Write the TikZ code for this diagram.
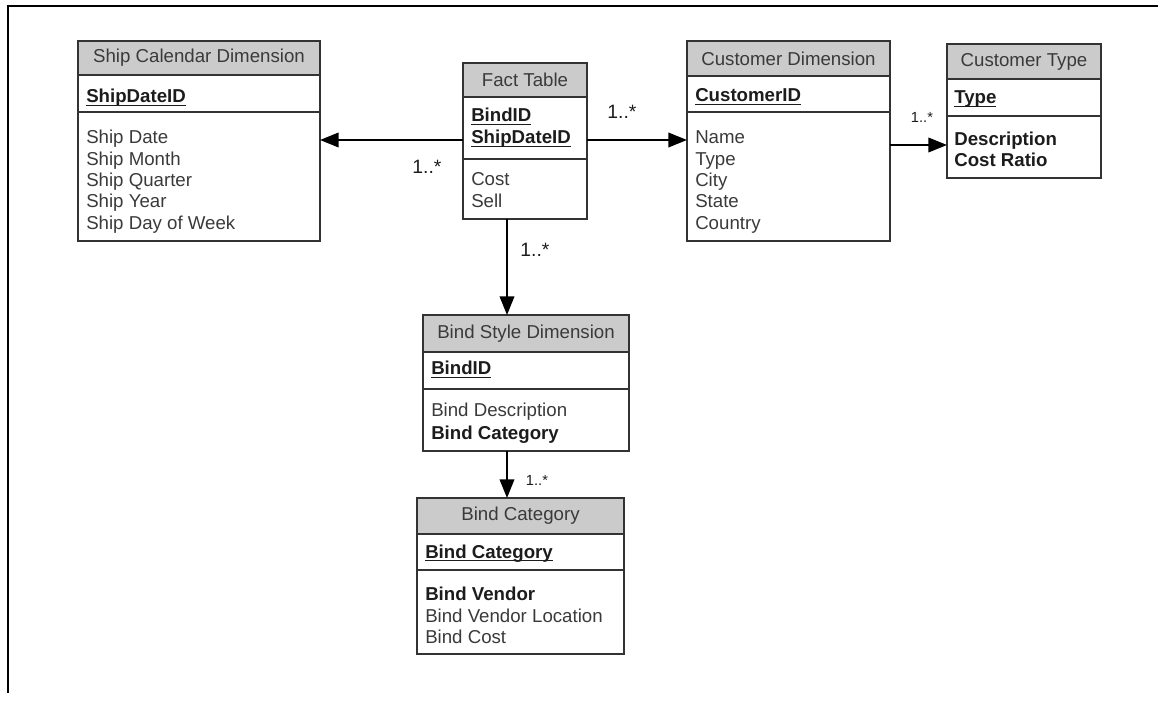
\documentclass[tikz,border=0pt]{standalone}
\usepackage{fontspec}
\setmainfont{Liberation Sans}
\usetikzlibrary{arrows.meta}
\definecolor{linec}{HTML}{333333}
\definecolor{hdrfill}{HTML}{CBCBCB}
\definecolor{txt}{HTML}{3A3A3A}
\definecolor{txtb}{HTML}{1C1C1C}
% bold, underlined primary key with a slightly heavier rule
\newcommand{\pkey}[1]{\setbox0\hbox{\textbf{#1}}\leavevmode\rlap{\rule[-2.2pt]{\wd0}{0.9pt}}\box0}
\def\px{0.75pt}
\begin{document}
\begin{tikzpicture}[x=0.75pt,y=-0.75pt,
  box/.style={draw=linec, line width=1.3pt, inner sep=0pt, outer sep=0pt, anchor=north west},
  hdr/.style={box, fill=hdrfill, text=txt, font=\fontsize{14pt}{16pt}\selectfont},
  fld/.style={anchor=base west, inner sep=0pt, text=txt, font=\fontsize{14pt}{16pt}\selectfont},
  bfld/.style={fld, text=txtb, font=\fontsize{14pt}{16pt}\selectfont\bfseries},
  arr/.style={draw=black, line width=1.2pt, -{Triangle[length=14pt,width=11pt]}},
  mult/.style={inner sep=0pt, text=txtb, font=\fontsize{14.5pt}{16pt}\selectfont},
  smult/.style={inner sep=0pt, text=txtb, font=\fontsize{11pt}{13pt}\selectfont},
]
\useasboundingbox (0,0) rectangle (1158,702);
% page frame
\draw[line width=1.8pt, line cap=rect] (1158,6) -- (8,6) -- (8,692);

% Ship Calendar Dimension
\node[hdr, minimum width=242*\px, minimum height=34*\px] (ship-h) at (78,41) {Ship Calendar Dimension};
\node[box, minimum width=242*\px, minimum height=37*\px] (ship-k) at (ship-h.south west) {};
\node[box, minimum width=242*\px, minimum height=129*\px] (ship-b) at (ship-k.south west) {};
\node[bfld] (ship-k1) at (86,103) {\pkey{ShipDateID}};
\foreach \t [count=\i] in {Ship Date,Ship Month,Ship Quarter,Ship Year,Ship Day of Week}
  \node[fld] (ship-b\i) at (86,{144+21.3*(\i-1)}) {\t};

% Fact Table
\node[hdr, minimum width=124*\px, minimum height=34*\px] (fact-h) at (463,63) {Fact Table};
\node[box, minimum width=124*\px, minimum height=62*\px] (fact-k) at (fact-h.south west) {};
\node[box, minimum width=124*\px, minimum height=60*\px] (fact-b) at (fact-k.south west) {};
\node[bfld] (fact-k1) at (471,122) {\pkey{BindID}};
\node[bfld] (fact-k2) at (471,144) {\pkey{ShipDateID}};
\node[fld] (fact-b1) at (471,186) {Cost};
\node[fld] (fact-b2) at (471,208) {Sell};

% Customer Dimension
\node[hdr, minimum width=203*\px, minimum height=35*\px] (cust-h) at (687,41) {Customer Dimension};
\node[box, minimum width=203*\px, minimum height=36*\px] (cust-k) at (cust-h.south west) {};
\node[box, minimum width=203*\px, minimum height=129*\px] (cust-b) at (cust-k.south west) {};
\node[bfld] (cust-k1) at (695,102) {\pkey{CustomerID}};
\foreach \t [count=\i] in {Name,Type,City,State,Country}
  \node[fld] (cust-b\i) at (695,{144+21.3*(\i-1)}) {\t};

% Customer Type
\node[hdr, minimum width=154*\px, minimum height=35*\px] (ctype-h) at (947,44) {Customer Type};
\node[box, minimum width=154*\px, minimum height=37*\px] (ctype-k) at (ctype-h.south west) {};
\node[box, minimum width=154*\px, minimum height=62*\px] (ctype-b) at (ctype-k.south west) {};
\node[bfld] (ctype-k1) at (954,104) {\pkey{Type}};
\node[bfld] (ctype-b1) at (954,146) {Description};
\node[bfld] (ctype-b2) at (954,167) {Cost Ratio};

% Bind Style Dimension
\node[hdr, minimum width=206*\px, minimum height=37*\px] (bstyle-h) at (423,315) {Bind Style Dimension};
\node[box, minimum width=206*\px, minimum height=37*\px] (bstyle-k) at (bstyle-h.south west) {};
\node[box, minimum width=206*\px, minimum height=62*\px] (bstyle-b) at (bstyle-k.south west) {};
\node[bfld] (bstyle-k1) at (431,375) {\pkey{BindID}};
\node[fld] (bstyle-b1) at (431,417) {Bind Description};
\node[bfld] (bstyle-b2) at (431,440) {Bind Category};

% Bind Category
\node[hdr, minimum width=207*\px, minimum height=36*\px] (bcat-h) at (417,498) {Bind Category};
\node[box, minimum width=207*\px, minimum height=36*\px] (bcat-k) at (bcat-h.south west) {};
\node[box, minimum width=207*\px, minimum height=84*\px] (bcat-b) at (bcat-k.south west) {};
\node[bfld] (bcat-k1) at (425,558) {\pkey{Bind Category}};
\node[bfld] (bcat-b1) at (425,600) {Bind Vendor};
\node[fld] (bcat-b2) at (425,622) {Bind Vendor Location};
\node[fld] (bcat-b3) at (425,643) {Bind Cost};

% relationships
\draw[arr] (fact-k.west |- 0,140) -- (ship-b.east |- 0,140);
\draw[arr] (fact-k.east |- 0,140) -- (cust-b.west |- 0,140);
\draw[arr] (cust-b.east |- 0,145) -- (ctype-b.west |- 0,145);
\draw[arr] (fact-b.south -| 507,0) -- (bstyle-h.north -| 507,0);
\draw[arr] (bstyle-b.south -| 507,0) -- (bcat-h.north -| 507,0);

% multiplicities
\node[mult] (m1) at (427,167) {1..*};
\node[mult] (m2) at (622,112) {1..*};
\node[smult] (m3) at (922,117) {1..*};
\node[mult] (m4) at (535,250) {1..*};
\node[smult] (m5) at (537,480) {1..*};
\end{tikzpicture}
\end{document}
